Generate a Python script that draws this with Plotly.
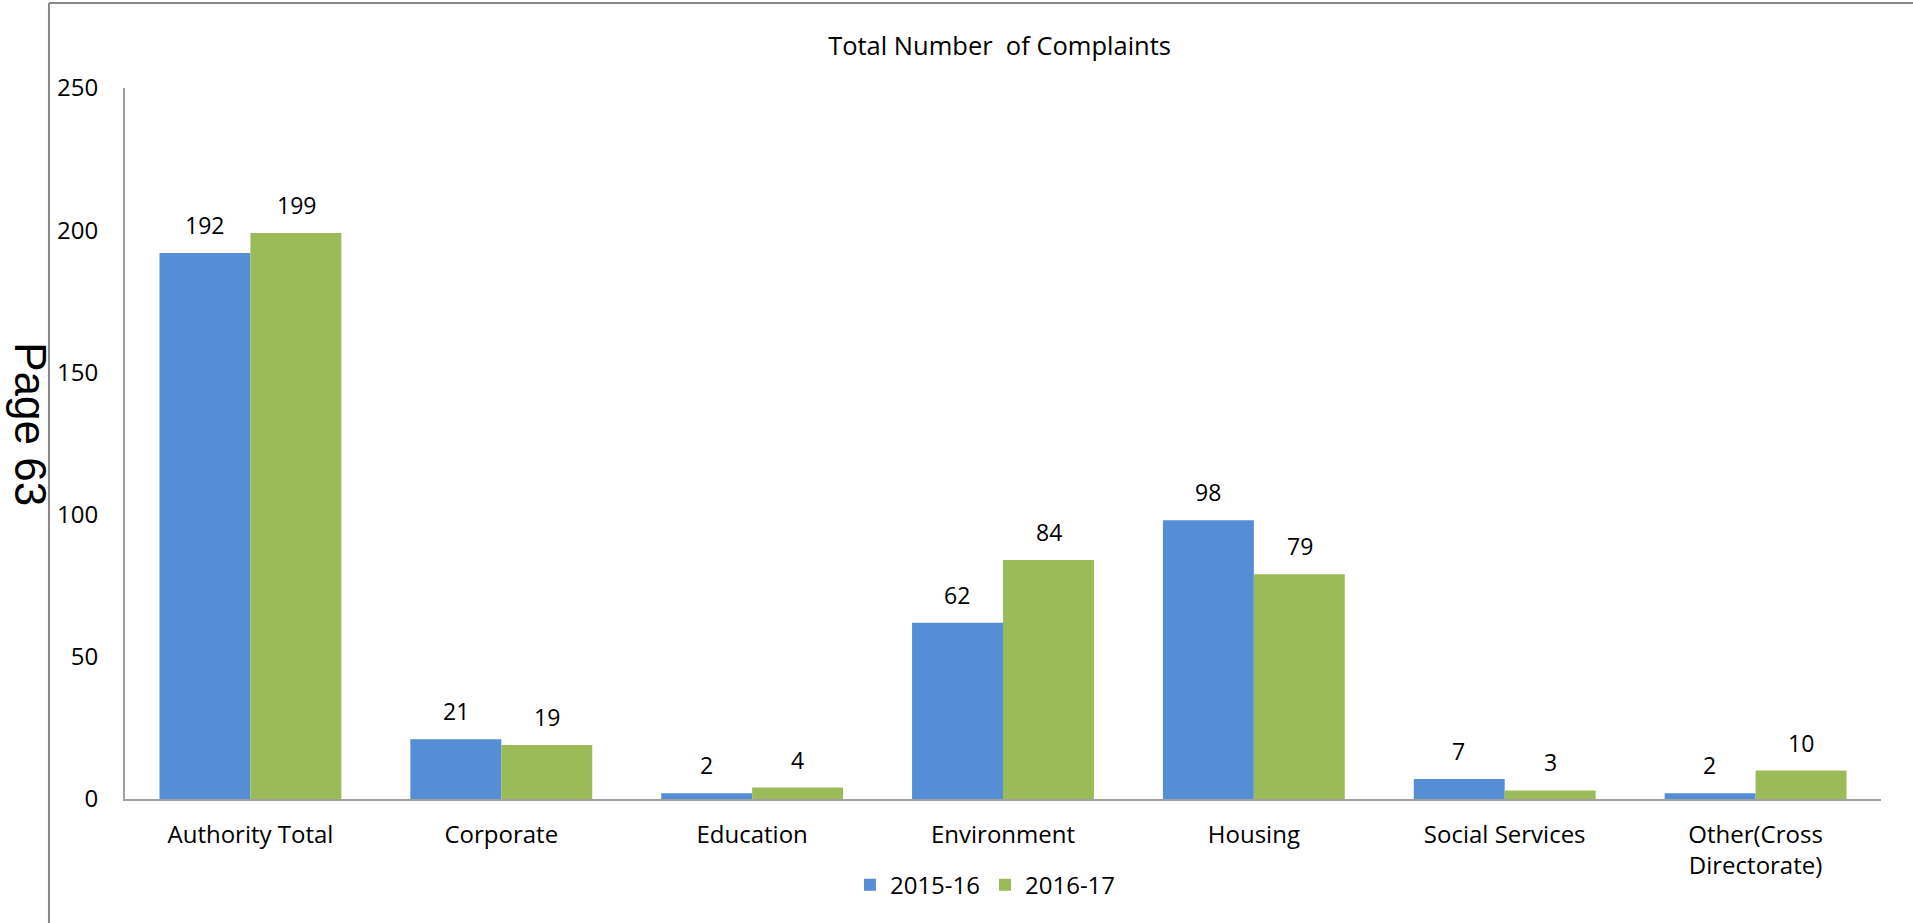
import plotly.graph_objects as go

categories = ["Authority Total", "Corporate", "Education", "Environment", "Housing",
              "Social Services", "Other(Cross<br>Directorate)"]
series_2015 = [192, 21, 2, 62, 98, 7, 2]
series_2016 = [199, 19, 4, 84, 79, 3, 10]
series_names = ["2015-16", "2016-17"]
y_ticks = [0, 50, 100, 150, 200, 250]

BLUE = "#558ED5"
GREEN = "#9BBB59"
FONT = "Open Sans"

fig = go.Figure()
fig.add_trace(go.Bar(x=categories, y=series_2015, name=series_names[0],
                     marker=dict(color=BLUE, line=dict(width=0))))
fig.add_trace(go.Bar(x=categories, y=series_2016, name=series_names[1],
                     marker=dict(color=GREEN, line=dict(width=0))))

off = 0.1825
annotations = []
for i, (a, b) in enumerate(zip(series_2015, series_2016)):
    for dx, v in ((-off, a), (off, b)):
        annotations.append(dict(x=i + dx, y=v, xref="x", yref="y", text=str(v),
                                showarrow=False, yanchor="bottom", yshift=10,
                                font=dict(family=FONT, size=23, color="black")))

annotations.append(dict(x=-0.0535, y=0.527, xref="paper", yref="paper", text="Page 63",
                        showarrow=False, textangle=90, xanchor="center", yanchor="middle",
                        font=dict(family="Liberation Sans, Arial", size=44, color="black")))

fig.update_layout(
    width=1913, height=923,
    paper_bgcolor="white", plot_bgcolor="white",
    margin=dict(l=125, r=32, t=88, b=124),
    barmode="group", bargap=0.275, bargroupgap=0,
    font=dict(family=FONT, size=24, color="black"),
    title=dict(text="Total Number  of Complaints", x=0.5225, xanchor="center",
               y=1 - 46 / 923, yanchor="middle", yref="container",
               font=dict(family=FONT, size=25.5, color="black")),
    legend=dict(orientation="h", x=0.49, xanchor="center", y=-0.121, yanchor="middle",
                font=dict(family=FONT, size=24, color="black"),
                itemwidth=30, tracegroupgap=0),
    xaxis=dict(type="category", showline=True, linecolor="#A0A0A0", linewidth=2,
               showgrid=False, ticks="", ticklabelstandoff=13,
               tickfont=dict(family=FONT, size=24, color="black")),
    yaxis=dict(range=[0, 250], tickvals=y_ticks, showline=True, linecolor="#A0A0A0",
               linewidth=2, showgrid=False, zeroline=False, ticks="",
               ticklabelstandoff=20,
               tickfont=dict(family=FONT, size=24, color="black")),
    annotations=annotations,
    shapes=[
        dict(type="line", xref="paper", yref="paper", x0=-0.0433, x1=-0.0433,
             y0=1.1195, y1=-0.18, line=dict(color="#888888", width=2)),
        dict(type="line", xref="paper", yref="paper", x0=-0.0433, x1=1.03,
             y0=1.1195, y1=1.1195, line=dict(color="#888888", width=2)),
    ],
)

fig.write_html("out.html", config={"displayModeBar": False},
               post_script="document.body.style.margin='0';document.body.style.overflow='hidden';")
